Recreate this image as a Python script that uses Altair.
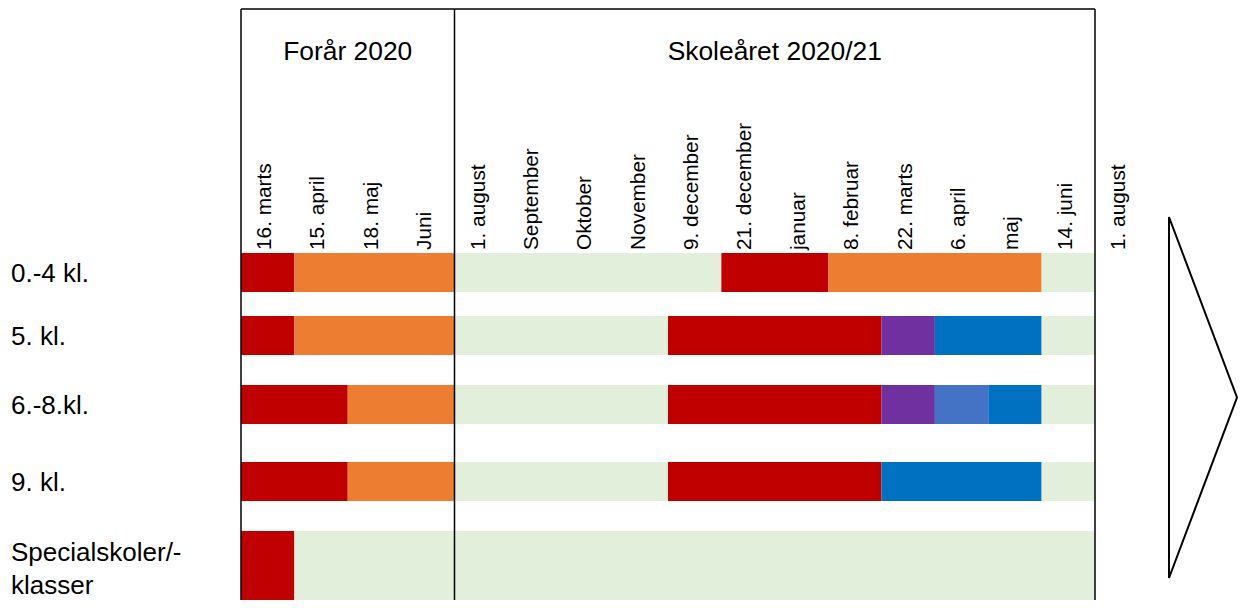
import altair as alt
import pandas as pd

# ---------------- data ----------------
title_text = "Figur 1. Oversigt over COVID-19 restriktioner på skoleområdet frem til 1. august 2021"

columns = ["16. marts", "15. april", "18. maj", "Juni",
           "1. august", "September", "Oktober", "November", "9. december",
           "21. december", "januar", "8. februar", "22. marts", "6. april",
           "maj", "14. juni", "1. august"]

groups = ["Forår 2020", "Skoleåret 2020/21"]
group_start = [0, 4]
group_end = [4, 16]

rows = ["0.-4 kl.", "5. kl.", "6.-8.kl.", "9. kl.", "Specialskoler/-\nklasser"]
row_lines = [1, 1, 1, 1, 2]

# status periods per row: status i runs from bounds[i] to bounds[i+1] (column index)
status_0_4 = ["rød", "orange", "grøn", "rød", "orange", "grøn"]
bounds_0_4 = [0, 1, 4, 9, 11, 15, 16]
status_5 = ["rød", "orange", "grøn", "rød", "lilla", "blå", "grøn"]
bounds_5 = [0, 1, 4, 8, 12, 13, 15, 16]
status_6_8 = ["rød", "orange", "grøn", "rød", "lilla", "lyseblå", "blå", "grøn"]
bounds_6_8 = [0, 2, 4, 8, 12, 13, 14, 15, 16]
status_9 = ["rød", "orange", "grøn", "rød", "blå", "grøn"]
bounds_9 = [0, 2, 4, 8, 12, 15, 16]
status_special = ["rød", "grøn"]
bounds_special = [0, 1, 16]

status_keys = ["rød", "orange", "grøn", "lilla", "lyseblå", "blå"]
status_colors = ["#C00000", "#ED7D31", "#E2EFDA", "#7030A0", "#4472C4", "#0070C0"]

# ---------------- layout (styles) ----------------
W, H = 1231, 592
COL_PX, COL0 = 53.375, 233.0          # column width, left edge of grid (px)
ROW_CENTERS_PX = [264.5, 327.5, 396.5, 473.5, 562.0]   # table row layout (px)
BAR_PX = 39.0
LINE_H = 33
FONT = "Liberation Sans"

xs = alt.Scale(domain=[-COL0 / COL_PX, (W - COL0) / COL_PX], nice=False, zero=False, padding=0)
ys = alt.Scale(domain=list(range(len(rows))), range=ROW_CENTERS_PX, nice=False, zero=False, padding=0)

# ---------------- tables ----------------
all_status = [status_0_4, status_5, status_6_8, status_9, status_special]
all_bounds = [bounds_0_4, bounds_5, bounds_6_8, bounds_9, bounds_special]
seg_rows = []
for r, (sts, bds) in enumerate(zip(all_status, all_bounds)):
    for i, s in enumerate(sts):
        seg_rows.append({"row": r, "lines": row_lines[r], "status": s,
                         "start": bds[i], "end": bds[i + 1]})
seg_df = pd.DataFrame(seg_rows)
row_df = pd.DataFrame({"row": range(len(rows)), "label": rows, "lines": row_lines})
col_df = pd.DataFrame({"col": range(len(columns)), "label": columns})
grp_df = pd.DataFrame({"group": groups, "start": group_start, "end": group_end})
edge_df = pd.DataFrame({"edge": group_start + [group_end[-1]]})

bars = alt.Chart(seg_df).mark_bar(orient="horizontal", strokeWidth=0).encode(
    x=alt.X("start:Q", scale=xs, axis=None),
    x2="end:Q",
    y=alt.Y("row:Q", scale=ys, axis=None),
    size=alt.Size("lines:Q", scale=alt.Scale(domain=[1, 2], range=[BAR_PX, 2 * BAR_PX]), legend=None),
    color=alt.Color("status:N", scale=alt.Scale(domain=status_keys, range=status_colors), legend=None),
)

label_base = alt.Chart(row_df).encode(
    x=alt.value(3),
    y=alt.Y("row:Q", scale=ys, axis=None),
    text="label:N",
)
row_labels_1 = label_base.transform_filter("datum.lines == 1").mark_text(
    align="left", baseline="middle", fontSize=26, font=FONT, color="black", dy=1
)
row_labels_2 = label_base.transform_filter("datum.lines > 1").mark_text(
    align="left", baseline="middle", fontSize=26, font=FONT, color="black",
    lineBreak="\n", lineHeight=LINE_H, dy=-17
)

col_labels = alt.Chart(col_df).mark_text(
    angle=270, align="left", baseline="alphabetic", fontSize=20.8, font=FONT, color="black"
).transform_calculate(
    xpos=f"datum.col + {30 / COL_PX}"
).encode(
    x=alt.X("xpos:Q", scale=xs, axis=None),
    y=alt.value(242),
    text="label:N",
)

headers = alt.Chart(grp_df).mark_text(
    align="center", baseline="alphabetic", fontSize=26.4, font=FONT, color="black"
).transform_calculate(
    mid="(datum.start + datum.end) / 2"
).encode(
    x=alt.X("mid:Q", scale=xs, axis=None),
    y=alt.value(52),
    text="group:N",
)

vlines = alt.Chart(edge_df).mark_rule(color="black", strokeWidth=1.5).encode(
    x=alt.X("edge:Q", scale=xs, axis=None),
    y=alt.value(1),
    y2=alt.value(H),
)

top_line = alt.Chart(grp_df).mark_rule(color="black", strokeWidth=1.5).encode(
    x=alt.X("start:Q", scale=xs, axis=None),
    x2="end:Q",
    y=alt.value(1),
)

arrow = alt.Chart(pd.DataFrame({"a": [1]})).mark_point(
    shape="M-0.1884,-1L0.1884,0L-0.1884,1Z", size=361 * 361, filled=False,
    stroke="black", strokeWidth=2, opacity=1
).encode(
    x=alt.value(1195),
    y=alt.value(389.5),
)

title = alt.Chart(pd.DataFrame({"t": [title_text]})).mark_text(
    align="left", baseline="alphabetic", fontSize=14.5, font=FONT, fontWeight="bold", color="#44546A"
).encode(
    x=alt.value(-8),
    y=alt.value(-3),
    text="t:N",
)

chart = alt.layer(bars, vlines, top_line, col_labels, headers, row_labels_1, row_labels_2, arrow, title).properties(
    width=W, height=H,
    autosize=alt.AutoSizeParams(type="none"),
    padding=0,
).configure_view(stroke=None)

chart.save("out.html", embed_options={"renderer": "svg", "actions": False})
